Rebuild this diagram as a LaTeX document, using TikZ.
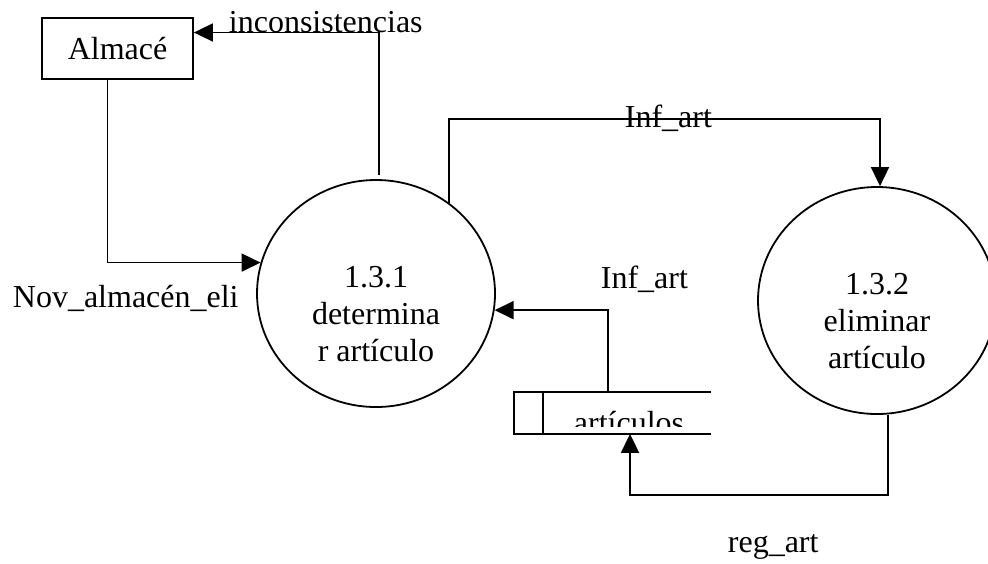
\documentclass[tikz,border=0pt]{standalone}
\usepackage{fontspec}
\setmainfont{Liberation Serif}
\usetikzlibrary{arrows.meta,shapes.geometric}

\begin{document}
\begin{tikzpicture}[x=0.5pt, y=-0.5pt, line width=0.9pt,
    flow/.style={-{Triangle[length=9.5pt,width=9pt]}},
    proc/.style={draw, ellipse, minimum width=119pt, minimum height=113.5pt, inner sep=0pt},
    lbl/.style={anchor=base west, inner sep=0pt},
    every node/.style={font=\fontsize{16}{18.5}\selectfont}]
    \useasboundingbox (0,0) rectangle (988,563);
    \node[draw, minimum width=75.5pt, minimum height=30.5pt, inner sep=0pt] (alm) at (117.5,48.5) {Almacé};
    \node[proc] (det) at (376,293.5) {};
    \node[align=center, inner sep=0pt] (dettxt) at (376,314) {1.3.1\\determina\\r artículo};
    \node[proc] (elim) at (877,300.5) {};
    \node[align=center, inner sep=0pt] (elimtxt) at (877,321) {1.3.2\\eliminar\\artículo};
    \node[minimum width=97.5pt, minimum height=20pt, inner sep=0pt] (arts) at (612.5,413) {};
    \draw (arts.north east) -- (arts.north west) -- (arts.south west) -- (arts.south east);
    \draw ([xshift=14.5pt]arts.north west) -- ([xshift=14.5pt]arts.south west);
    \begin{scope}
      \clip (544,395) rectangle (710,426);
      \node[anchor=base, inner sep=0pt] (artstxt) at (629,433) {artículos};
    \end{scope}
    \coordinate (inc) at (379,175);
    \draw[flow] (inc) |- ([yshift=8pt]alm.east);
    \node[lbl] (incl) at (228,32) {inconsistencias};
    \draw[flow] ([xshift=-5pt]alm.south) |- (det.165);
    \node[lbl] (nov) at (12,307) {Nov\_almacén\_eli};
    \coordinate (infup) at (880,119);
    \draw[flow] (det.51) |- (infup) -- ([xshift=1.5pt]elim.north);
    \node[lbl] (infl1) at (624,127) {Inf\_art};
    \draw[flow] ([xshift=-2.25pt]arts.north) |- (det.-8.5);
    \node[lbl] (infl2) at (600,288) {Inf\_art};
    \coordinate (regdn) at (630,495);
    \draw[flow] ([xshift=5.5pt]elim.south) |- (regdn) -- ([xshift=8.75pt]arts.south);
    \node[lbl] (regl) at (727,552) {reg\_art};
\end{tikzpicture}
\end{document}
